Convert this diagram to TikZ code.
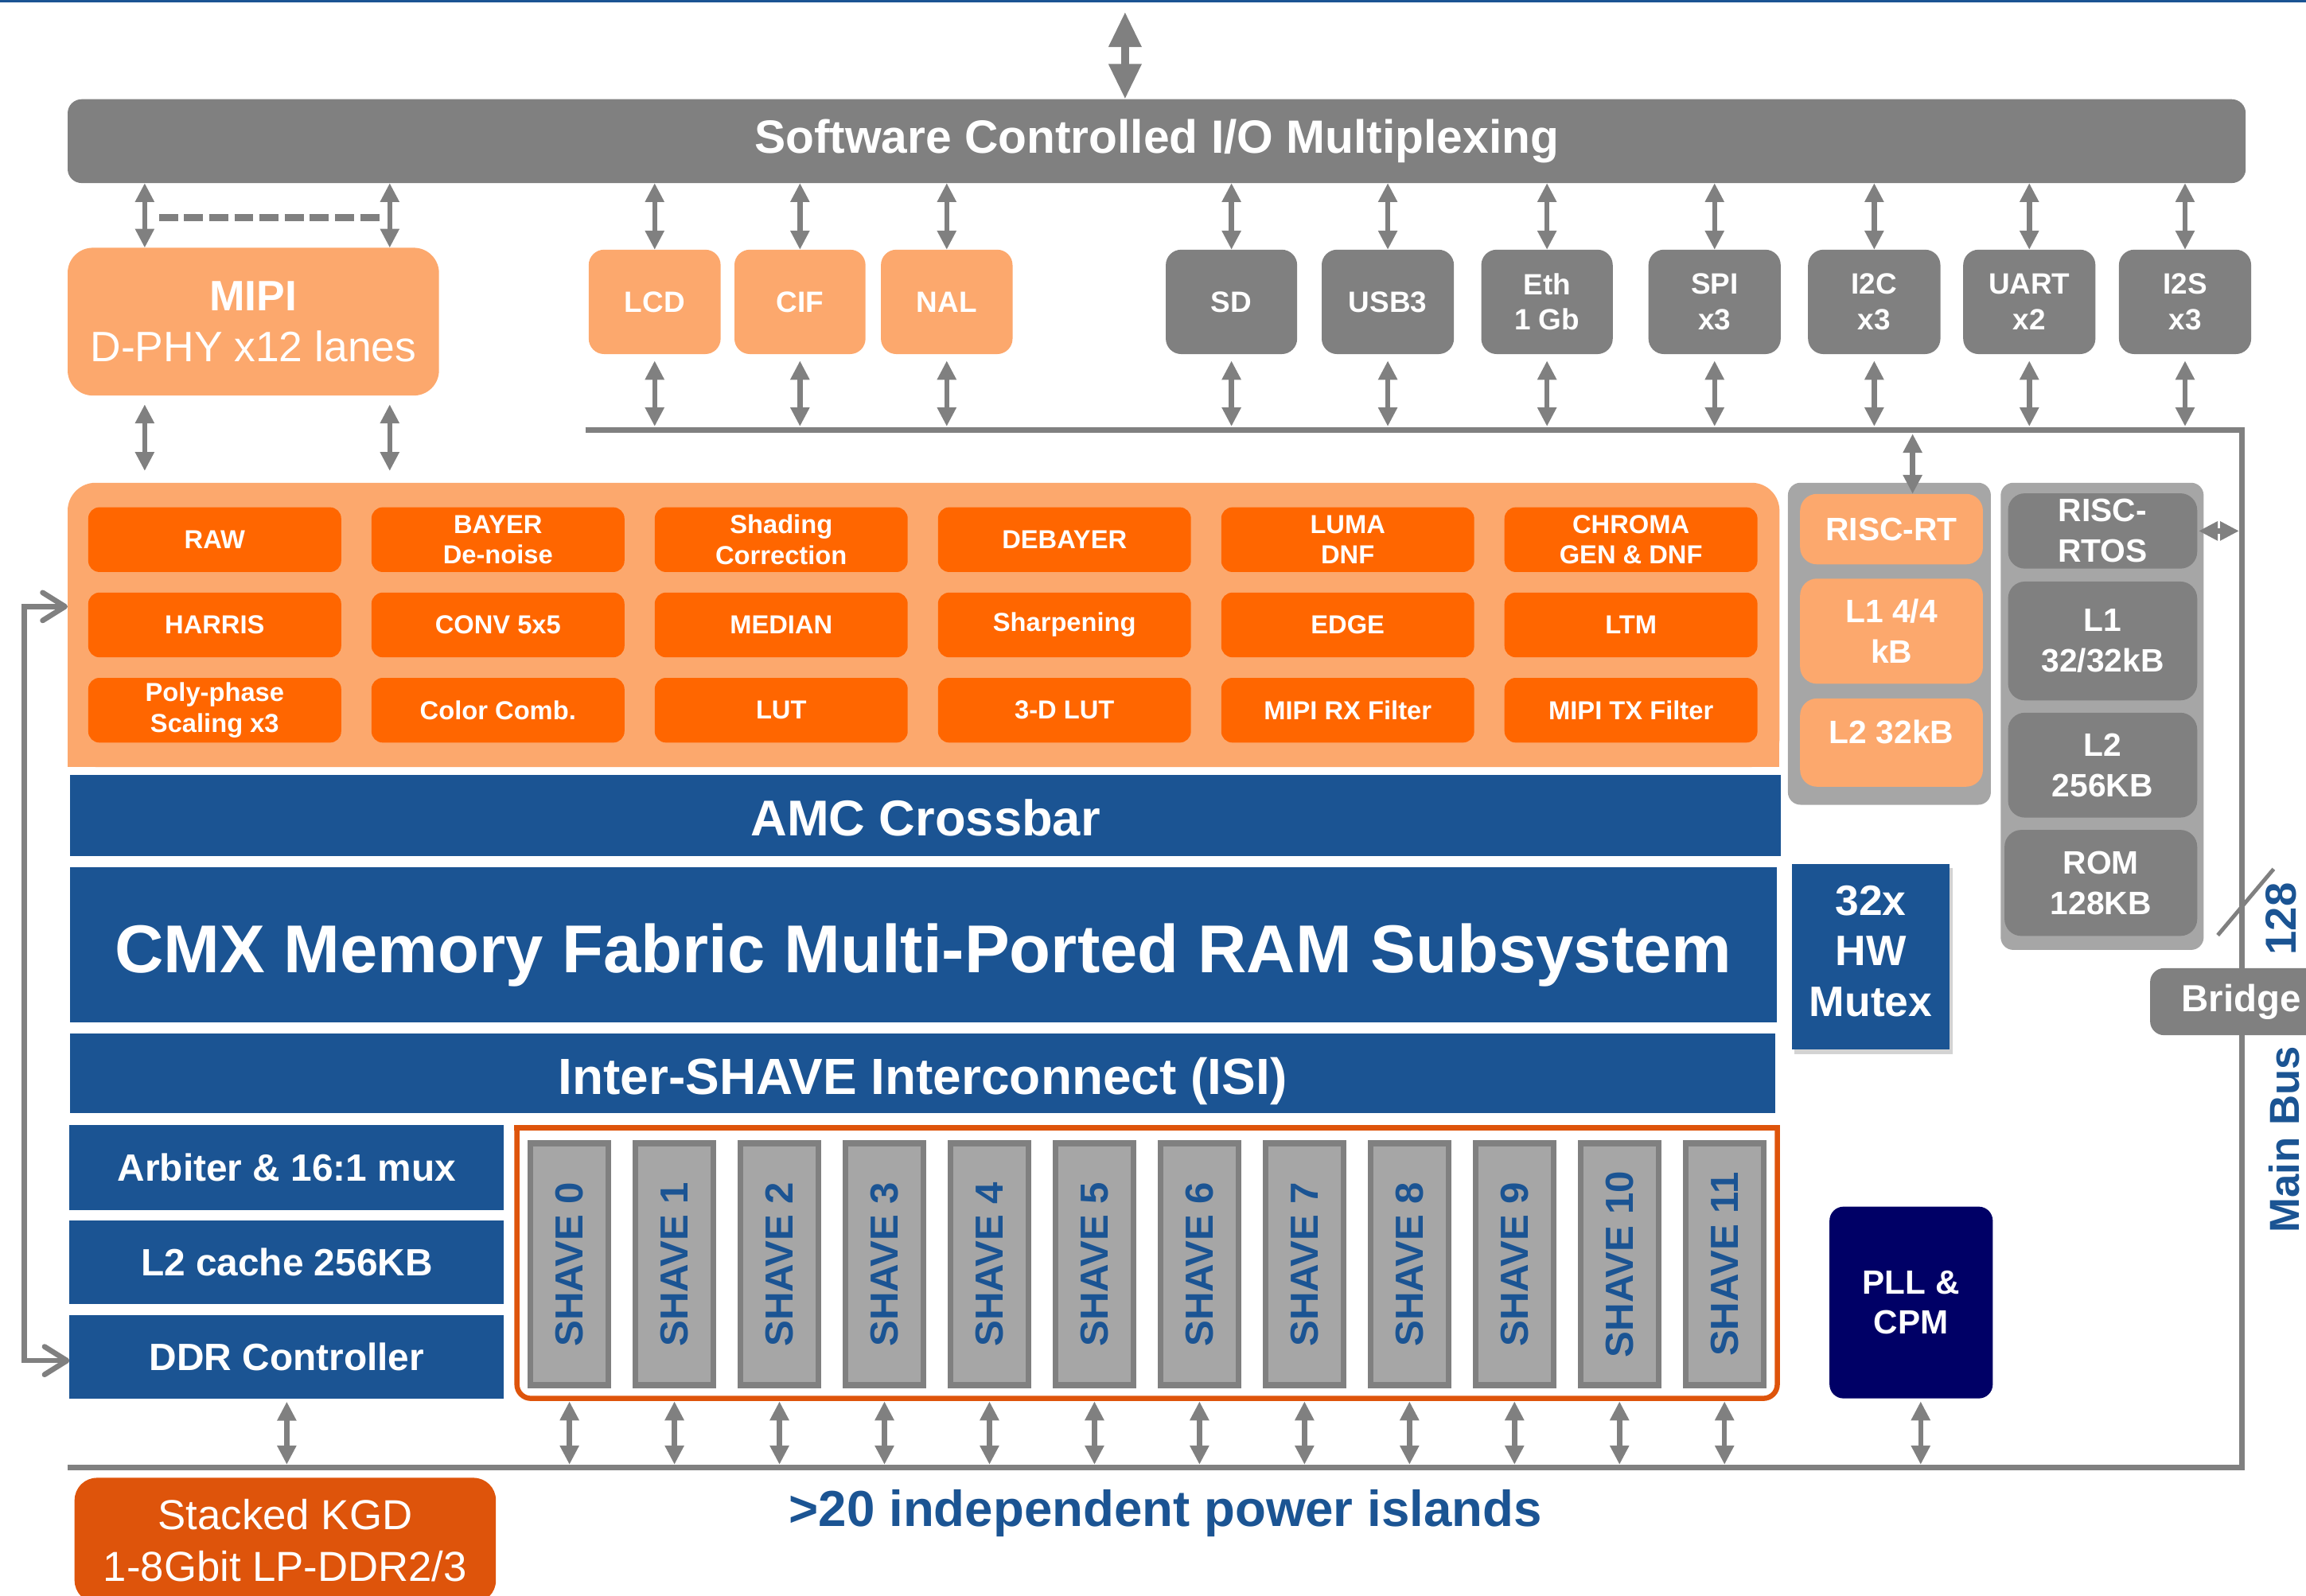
\documentclass[tikz,border=0pt]{standalone}
\usepackage{fontspec}
\setmainfont{Liberation Sans}
\usetikzlibrary{arrows.meta,calc,shadows}

\definecolor{iogray}{HTML}{808080}
\definecolor{grpgray}{HTML}{A6A6A6}
\definecolor{peach}{HTML}{FCA86D}
\definecolor{ispor}{HTML}{FF6600}
\definecolor{kgdor}{HTML}{DE540B}
\definecolor{cmxblue}{HTML}{1B5493}
\definecolor{pllnavy}{HTML}{000066}

% one drawing unit
\newcommand\upx{0.018482cm}
\newcommand\fsz[2]{\fontsize{#1}{#2}\selectfont}
% box from (x1,y1) to (x2,y2): name, style, x1, y1, x2, y2, text
\newcommand\bx[7]{%
  \node[#2, minimum width={((#5)-(#3))*\upx}, minimum height={((#6)-(#4))*\upx}]
    (#1) at ({((#3)+(#5))/2},{((#4)+(#6))/2}) {#7};}
% image-pipeline block in column #2, row #3
\newcommand\ispb[4]{\bx{#1}{ispblk}{60+192.6*#2}{345+58*#3}{232+192.6*#2}{389+58*#3}{#4}}

\begin{document}
\begin{tikzpicture}[x=0.018482cm, y=-0.018482cm,
  base/.style={inner sep=0pt, outer sep=0pt, align=center, text=white},
  muxbar/.style={base, fill=iogray, rounded corners=5pt, font=\fsz{16.7}{20}\bfseries},
  mipibox/.style={base, fill=peach, rounded corners=9pt, font=\fsz{15.2}{18.4}},
  lobox/.style={base, fill=peach, rounded corners=5.5pt, font=\fsz{10.5}{12.6}\bfseries},
  iobox/.style={base, fill=iogray, rounded corners=5.5pt, font=\fsz{10.5}{12.6}\bfseries},
  ispblk/.style={base, fill=ispor, rounded corners=4pt, font=\fsz{9.3}{11}\bfseries},
  panel/.style={base, fill=peach, rounded corners=10pt},
  grp/.style={base, fill=grpgray, rounded corners=4.5pt},
  rtbox/.style={base, fill=peach, rounded corners=6pt, font=\fsz{11.6}{14.5}\bfseries},
  osbox/.style={base, fill=iogray, rounded corners=6pt, font=\fsz{11.6}{14.5}\bfseries},
  bluebar/.style={base, fill=cmxblue, text depth=0pt},
  mutexbox/.style={base, fill=cmxblue, font=\fsz{15.2}{18.1}\bfseries, text depth=4.2pt,
    drop shadow={opacity=0.35, shadow xshift=1pt, shadow yshift=-1.5pt}},
  leftbox/.style={base, fill=cmxblue, font=\fsz{13.6}{16}\bfseries},
  shavebar/.style={base, fill=grpgray, draw=iogray, line width=2.1pt,
    text=cmxblue, font=\fsz{14}{16}\bfseries},
  pllbox/.style={base, fill=pllnavy, rounded corners=5pt, font=\fsz{12}{14.2}\bfseries},
  bridgebox/.style={base, fill=iogray, rounded corners=5pt, font=\fsz{13.5}{16}\bfseries},
  kgdbox/.style={base, fill=kgdor, rounded corners=8pt, font=\fsz{15}{18.4}},
  bluetext/.style={inner sep=0pt, outer sep=0pt, text=cmxblue},
  dbl/.style={draw=iogray, line width=1.84pt,
    {Triangle[length=6.8pt,width=6.5pt]}-{Triangle[length=6.8pt,width=6.5pt]}},
  topdbl/.style={draw=iogray, line width=3pt,
    {Triangle[length=12.6pt,width=11pt]}-{Triangle[length=12.6pt,width=11pt]}},
  busline/.style={draw=iogray, line width=2.1pt},
  loopline/.style={draw=iogray, line width=1.9pt,
    {Straight Barb[length=8pt,width=10pt,line cap=round,line join=round]}-{Straight Barb[length=8pt,width=10pt,line cap=round,line join=round]}},
  dashline/.style={draw=iogray, line width=2.4pt, dash pattern=on 6.8pt off 2.2pt},
  shvline/.style={draw=kgdor, line width=1.84pt},
]
\useasboundingbox (0,0) rectangle (1568,1085);

% thin rule along the top edge
\draw[cmxblue, line width=1pt] (0,0.8) -- (1568,0.8);

% ---------- I/O multiplexing and peripherals ----------
\bx{mux}{muxbar}{46}{67.5}{1527}{124.5}{Software Controlled I/O Multiplexing}
\coordinate (ta) at (765,8);
\draw[topdbl] (ta) -- (ta |- mux.north);

\bx{mipi}{mipibox}{46}{168.5}{298.5}{269}{{\bfseries MIPI}\\D-PHY x12 lanes}
\bx{lcd}{lobox}{400.3}{169.8}{490}{240.8}{LCD}
\bx{cif}{lobox}{499.4}{169.8}{588.5}{240.8}{CIF}
\bx{nal}{lobox}{599}{169.8}{688.5}{240.8}{NAL}
\bx{sd}{iobox}{792.7}{169.8}{882}{240.8}{SD}
\bx{usb}{iobox}{898.7}{169.8}{988.6}{240.8}{USB3}
\bx{eth}{iobox}{1007.2}{169.8}{1096.6}{240.8}{Eth\\1 Gb}
\bx{spi}{iobox}{1120.9}{169.8}{1210.8}{240.8}{SPI\\x3}
\bx{iic}{iobox}{1229.4}{169.8}{1319.4}{240.8}{I2C\\x3}
\bx{uart}{iobox}{1334.9}{169.8}{1424.8}{240.8}{UART\\x2}
\bx{iis}{iobox}{1440.8}{169.8}{1530.7}{240.8}{I2S\\x3}

% main bus
\coordinate (busTL) at (398,292.5);
\coordinate (busTR) at (1524.5,292.5);
\coordinate (busBR) at (1524.5,998);
\coordinate (busBL) at (46,998);
\draw[busline] (busTL) -- (busTR) -- (busBR) -- (busBL);

\foreach \nm in {lcd,cif,nal,sd,usb,eth,spi,iic,uart,iis}{
  \draw[dbl] (\nm.north |- mux.south) -- (\nm.north);
  \draw[dbl] ($(\nm.south)+(0,4.5)$) -- ($(\nm.south |- busTL)+(0,-2.5)$);
}

% MIPI lanes
\coordinate (m1) at (98.4,0);
\coordinate (m2) at (265,0);
\coordinate (d1) at (108,148);
\coordinate (d2) at (261,148);
\draw[dbl] (m1 |- mux.south) -- (m1 |- mipi.north);
\draw[dbl] (m2 |- mux.south) -- (m2 |- mipi.north);
\draw[dashline] (d1) -- (d2);

% ---------- image pipeline ----------
\bx{isp}{panel}{46}{328.3}{1210}{521.6}{}
\fill[peach] (46,495) rectangle (80,521.6);
\fill[peach] (1176,495) rectangle (1210,521.6);
\draw[dbl] ($(m1 |- mipi.south)+(0,6)$) -- ($(m1 |- isp.north)+(0,-8)$);
\draw[dbl] ($(m2 |- mipi.south)+(0,6)$) -- ($(m2 |- isp.north)+(0,-8)$);

\ispb{i00}{0}{0}{RAW}
\ispb{i10}{1}{0}{BAYER\\De-noise}
\ispb{i20}{2}{0}{Shading\\Correction}
\ispb{i30}{3}{0}{DEBAYER}
\ispb{i40}{4}{0}{LUMA\\DNF}
\ispb{i50}{5}{0}{CHROMA\\GEN \& DNF}
\ispb{i01}{0}{1}{HARRIS}
\ispb{i11}{1}{1}{CONV 5x5}
\ispb{i21}{2}{1}{MEDIAN}
\ispb{i31}{3}{1}{Sharpening}
\ispb{i41}{4}{1}{EDGE}
\ispb{i51}{5}{1}{LTM}
\ispb{i02}{0}{2}{Poly-phase\\Scaling x3}
\ispb{i12}{1}{2}{Color Comb.}
\ispb{i22}{2}{2}{LUT}
\ispb{i32}{3}{2}{3-D LUT}
\ispb{i42}{4}{2}{MIPI RX Filter}
\ispb{i52}{5}{2}{MIPI TX Filter}

% ---------- memory fabric ----------
\bx{amc}{bluebar, text height=14.5pt}{47.6}{527}{1211}{582}{\fsz{18}{21}\bfseries AMC Crossbar}
\bx{cmx}{bluebar, text height=19.9pt}{47.6}{590}{1208}{695}{\fsz{24.2}{28}\bfseries CMX Memory Fabric Multi-Ported RAM Subsystem}
\bx{isi}{bluebar, text height=15.1pt}{47.6}{703}{1207}{757}{\fsz{18.2}{21}\bfseries Inter-SHAVE Interconnect (ISI)}
\bx{mutex}{mutexbox}{1218.4}{587.5}{1325.8}{713.9}{32x\\HW\\Mutex}

% ---------- RISC processors ----------
\bx{rtgrp}{grp}{1215.7}{328.3}{1353.7}{547.3}{}
\bx{rt}{rtbox}{1224}{335.9}{1348.3}{383.8}{RISC-RT}
\bx{l1rt}{rtbox}{1224}{393.5}{1348.3}{465}{L1 4/4\\kB}
\bx{l2rt}{rtbox, text height=8.3pt, text depth=7.4pt}{1224}{475}{1348.3}{535}{L2 32kB}
\coordinate (rta) at (1300.5,0);
\draw[dbl] ($(rta |- busTL)+(0,2.5)$) -- (rta |- rt.north);

\bx{osgrp}{grp}{1360.4}{328.3}{1498.4}{646}{}
\bx{rtos}{osbox}{1365.4}{335.5}{1494}{386.7}{RISC-\\RTOS}
\bx{l1os}{osbox}{1365.4}{395.5}{1494}{476.3}{L1\\32/32kB}
\bx{l2os}{osbox}{1365.4}{484.7}{1494}{556}{L2\\256KB}
\bx{rom}{osbox}{1363}{564.4}{1494}{636.5}{ROM\\128KB}
\draw[dbl] ($(rtos.east)+(1,0)$) -- ($(busTR |- rtos.east)+(-2,0)$);

% bus width mark and bridge
\draw[iogray, line width=1.4pt] (1508,636) -- (1546,591);
\node[bluetext, rotate=90, font=\fsz{15.5}{18}\bfseries] (bw) at (1551,625) {128};
\bx{bridge}{bridgebox}{1462}{658.4}{1586}{704}{Bridge}
\node[bluetext, rotate=90, font=\fsz{15}{18}\bfseries] (mbus) at (1553,775) {Main Bus};

% ---------- DDR path and SHAVE array ----------
\bx{arb}{leftbox}{47.3}{765.1}{342.7}{822.7}{Arbiter \& 16:1 mux}
\bx{l2c}{leftbox}{47.3}{829.8}{342.7}{886.9}{L2 cache 256KB}
\bx{ddr}{leftbox}{47.3}{894.3}{342.7}{951.2}{DDR Controller}

\coordinate (lp1) at (16.6,412.5);
\coordinate (lp2) at (16.6,925.3);
\draw[loopline] (isp.west |- lp1) -- (lp1) -- (lp2) -- (ddr.west |- lp2);
\draw[dbl] ($(ddr.south)+(0,2)$) -- ($(ddr.south |- busBL)+(0,-2)$);

\bx{shv}{base}{351.5}{767}{1208.5}{951}{}
\draw[shvline, rounded corners=5pt] (shv.north west) -- (shv.south west) -- (shv.south east) -- (shv.north east);
\draw[shvline, line cap=rect] (shv.north west) -- (shv.north east);

\foreach \i in {0,...,11}{
  \pgfmathsetmacro\xl{358.7+71.4*\i}
  \bx{sb\i}{shavebar}{\xl+2}{777.6}{\xl+55}{942}{\rotatebox{90}{SHAVE \i}}
  \draw[dbl] ($(sb\i.center |- shv.south)+(0,2)$) -- ($(sb\i.center |- busBL)+(0,-2)$);
}

\bx{pll}{pllbox}{1244}{820.6}{1355}{951}{PLL \&\\CPM}
\draw[dbl] ($(pll.south)+(6.5,2)$) -- ($(pll.south |- busBL)+(6.5,-2)$);

% ---------- external memory and note ----------
\bx{kgd}{kgdbox}{50.7}{1005}{337.2}{1090}{Stacked KGD\\1-8Gbit LP-DDR2/3}
\node[bluetext, font=\fsz{18.1}{21}\bfseries] (islands) at (792.5,1029) {>20 independent power islands};
\end{tikzpicture}
\end{document}
